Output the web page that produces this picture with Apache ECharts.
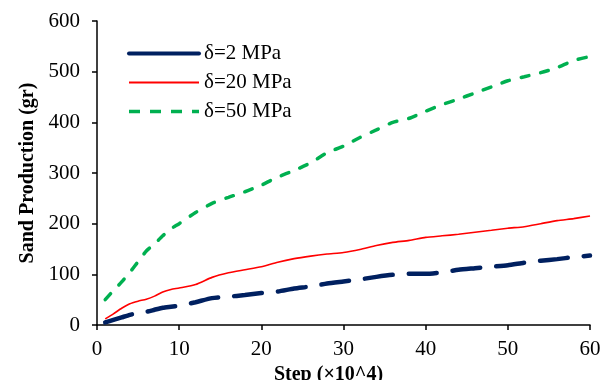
<!DOCTYPE html>
<html>
<head>
<meta charset="utf-8">
<script src="https://cdn.jsdelivr.net/npm/echarts@6/dist/echarts.min.js"></script>
<style>html,body{margin:0;padding:0;background:#fff;}#c{width:607px;height:380px;}</style>
</head>
<body>
<div id="c"></div>
<script>
var steps = [1,2,3,4,5,6,7,8,9,10,12,14,16,18,20,22,24,26,28,30,32,34,36,38,40,42,44,46,48,50,52,54,56,58,60];
var d2  = [5,10,15,20,24,26,30,34,36,38,45,53,56,59,63,66,72,76,82,86,90,95,99,101,101,104,109,112,115,118,123,127,130,134,137];
var d20 = [12,22,33,42,47,51,57,65,70,73,80,94,103,109,115,124,131,136,140,143,149,157,163,167,173,176,179,183,187,191,194,200,206,210,215];
var d50 = [50,68,85,104,125,146,160,176,190,200,222,240,252,263,276,292,305,320,340,353,370,385,400,408,422,435,446,458,470,482,490,498,508,522,530];
var xTicks = [0,10,20,30,40,50,60];
var yTicks = [0,100,200,300,400,500,600];
var names = ['δ=2 MPa','δ=20 MPa','δ=50 MPa'];

function pairs(v){ return steps.map(function(s,i){ return [s, v[i]]; }); }
var font = 'Liberation Serif';
var chart = echarts.init(document.getElementById('c'));
chart.setOption({
  animation: false,
  backgroundColor: '#fff',
  grid: {left: 97, right: 17, top: 21, bottom: 55, containLabel: false, outerBoundsMode: 'none'},
  legend: {
    orient: 'vertical', left: 127, top: 43, padding: 0,
    itemWidth: 70, itemHeight: 14, itemGap: 8,
    itemStyle: {opacity: 0},
    textStyle: {fontFamily: font, fontSize: 21, color: '#000'},
    data: [
      {name: names[0], lineStyle: {type: 'solid', width: 4}},
      {name: names[1]},
      {name: names[2], lineStyle: {type: [11, 10], width: 3.5, cap: 'butt'}}
    ]
  },
  xAxis: {
    type: 'value', min: 0, max: 60, interval: 10,
    name: 'Step (×10^4)', nameLocation: 'middle', nameGap: 40,
    nameTextStyle: {fontFamily: font, fontSize: 20, fontWeight: 'bold', color: '#000', padding: [0, 30, 0, 0]},
    axisLine: {show: true, lineStyle: {color: '#000', width: 1.5}},
    axisTick: {show: true, length: 5, lineStyle: {color: '#000', width: 1.5}},
    axisLabel: {fontFamily: font, fontSize: 21, color: '#000', margin: 14},
    splitLine: {show: false}
  },
  yAxis: {
    type: 'value', min: 0, max: 600, interval: 100,
    name: 'Sand Production (gr)', nameLocation: 'middle', nameGap: 59, nameRotate: 90,
    nameTextStyle: {fontFamily: font, fontSize: 20, fontWeight: 'bold', color: '#000'},
    axisLine: {show: true, lineStyle: {color: '#000', width: 1.5}},
    axisTick: {show: true, length: 5, lineStyle: {color: '#000', width: 1.5}},
    axisLabel: {fontFamily: font, fontSize: 21, color: '#000', margin: 17},
    splitLine: {show: false}
  },
  series: [
    {name: names[0], type: 'line', data: pairs(d2), symbol: 'none', smooth: 0.2,
     lineStyle: {color: '#002060', width: 4.5, type: [28, 16], cap: 'round'}, itemStyle: {color: '#002060'}},
    {name: names[1], type: 'line', data: pairs(d20), symbol: 'none', smooth: 0.2,
     lineStyle: {color: '#ff0000', width: 1.6, type: 'solid'}, itemStyle: {color: '#ff0000'}},
    {name: names[2], type: 'line', data: pairs(d50), symbol: 'none', smooth: 0.2,
     lineStyle: {color: '#00b050', width: 3.5, type: [8, 12], cap: 'round'}, itemStyle: {color: '#00b050'}}
  ]
});
</script>
</body>
</html>
